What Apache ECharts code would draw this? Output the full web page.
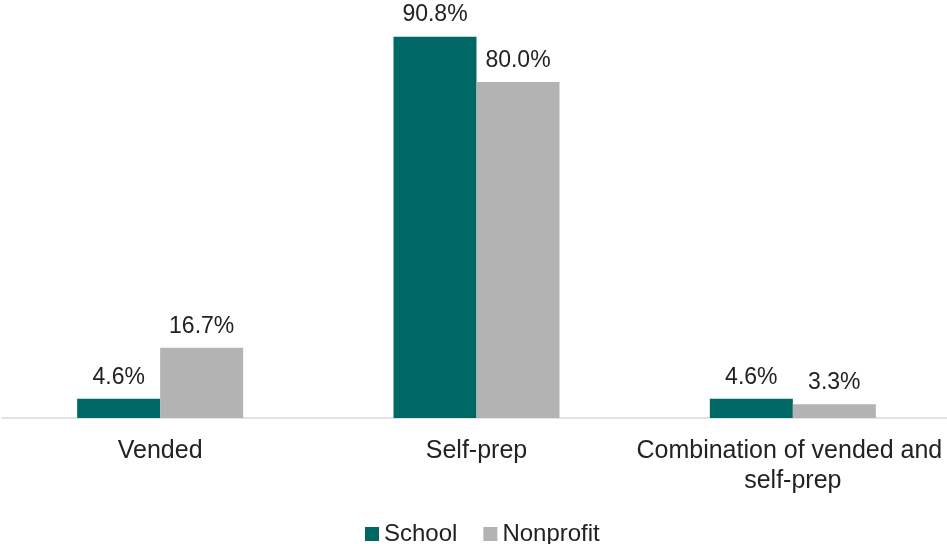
<!DOCTYPE html>
<html>
<head>
<meta charset="utf-8">
<script src="https://cdn.jsdelivr.net/npm/echarts@6/dist/echarts.min.js"></script>
<style>html,body{margin:0;padding:0;background:#fff;}#c{width:947px;height:544px;}</style>
</head>
<body>
<div id="c"></div>
<script>
const categories = ['Vended', 'Self-prep', 'Combination of vended and self-prep'];
const schoolValues = [4.6, 90.8, 4.6];
const nonprofitValues = [16.7, 80.0, 3.3];
const seriesNames = ['School', 'Nonprofit'];

const FONT = '"Liberation Sans", Arial, sans-serif';
const chart = echarts.init(document.getElementById('c'));
const labelOpt = {
  show: true, position: 'top', distance: 10,
  fontFamily: FONT, fontSize: 23, color: '#222',
  formatter: p => p.value.toFixed(1) + '%'
};
chart.setOption({
  animation: false,
  grid: { left: 2, right: -4, top: -2, bottom: 126, containLabel: false, outerBoundsMode: 'none' },
  legend: {
    left: 360, top: 517, itemWidth: 14, itemHeight: 14, itemGap: 26,
    icon: 'rect',
    textStyle: { fontFamily: FONT, fontSize: 24, color: '#222' },
    data: seriesNames
  },
  xAxis: {
    type: 'category', data: categories,
    axisLine: { lineStyle: { color: '#d9d9d9', width: 1.5 } },
    axisTick: { show: false },
    axisLabel: {
      margin: 18, fontFamily: FONT, fontSize: 25, color: '#222', lineHeight: 30,
      width: 314, overflow: 'break', interval: 0
    }
  },
  yAxis: { type: 'value', min: 0, max: 100, show: false, splitLine: { show: false } },
  series: [
    { name: seriesNames[0], type: 'bar', data: schoolValues, barWidth: 83, barGap: '0%',
      itemStyle: { color: '#006864' }, label: labelOpt },
    { name: seriesNames[1], type: 'bar', data: nonprofitValues, barWidth: 83, barGap: '0%',
      itemStyle: { color: '#b3b3b3' }, label: labelOpt }
  ]
});
</script>
</body>
</html>
